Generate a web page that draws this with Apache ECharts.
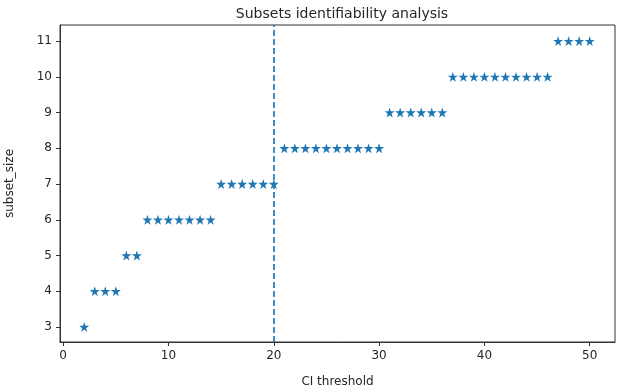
<!DOCTYPE html>
<html>
<head>
<meta charset="utf-8">
<script src="https://cdn.jsdelivr.net/npm/echarts@6/dist/echarts.min.js"></script>
<style>
html,body{margin:0;padding:0;background:#fff;}
#chart{width:617px;height:390px;}
</style>
</head>
<body>
<div id="chart"></div>
<script>
// CI threshold values and the subset size found at each
var thresholds = [2, 3, 4, 5, 6, 7, 8, 9, 10, 11, 12, 13, 14, 15, 16, 17, 18, 19, 20,
    21, 22, 23, 24, 25, 26, 27, 28, 29, 30, 31, 32, 33, 34, 35, 36,
    37, 38, 39, 40, 41, 42, 43, 44, 45, 46, 47, 48, 49, 50];
var subsetSize = [3, 4, 4, 4, 5, 5, 6, 6, 6, 6, 6, 6, 6, 7, 7, 7, 7, 7, 7,
    8, 8, 8, 8, 8, 8, 8, 8, 8, 8, 9, 9, 9, 9, 9, 9,
    10, 10, 10, 10, 10, 10, 10, 10, 10, 10, 11, 11, 11, 11];
var xTicks = [0, 10, 20, 30, 40, 50];
var yTicks = [3, 4, 5, 6, 7, 8, 9, 10, 11];
var chosenThreshold = 20;

var points = [];
for (var i = 0; i < thresholds.length; i++) {
    points.push([thresholds[i], subsetSize[i]]);
}

var star = 'path://M50,0 L61.8,36.2 L100,36.2 L69.1,58.8 L80.9,95.1 L50,72.4 L19.1,95.1 L30.9,58.8 L0,36.2 L38.2,36.2 Z';
var font = 'DejaVu Sans';
var txt = '#262626';

var option = {
    animation: false,
    backgroundColor: '#fff',
    title: {
        text: 'Subsets identifiability analysis',
        left: 337, top: 2,
        textAlign: 'center',
        textStyle: {fontFamily: font, fontSize: 14, fontWeight: 'normal', color: txt}
    },
    grid: {
        left: 60, right: 2, top: 25, bottom: 48,
        containLabel: false,
        outerBoundsMode: 'none',
        show: true, borderColor: '#333', borderWidth: 1
    },
    xAxis: {
        type: 'value',
        min: -0.3, max: 52.4,
        name: 'CI threshold',
        nameLocation: 'middle',
        nameGap: 34,
        nameTextStyle: {fontFamily: font, fontSize: 12, color: txt},
        axisLine: {show: true, onZero: false, lineStyle: {color: '#333'}},
        axisTick: {show: true, length: 4, lineStyle: {color: '#333'},
            customValues: xTicks},
        axisLabel: {fontFamily: font, fontSize: 12, color: txt, margin: 8,
            customValues: xTicks, showMinLabel: true, showMaxLabel: true},
        splitLine: {show: false}
    },
    yAxis: {
        type: 'value',
        min: 2.58, max: 11.45,
        name: 'subset_size',
        nameLocation: 'middle',
        nameGap: 44,
        nameTextStyle: {fontFamily: font, fontSize: 12, color: txt},
        axisLine: {show: true, onZero: false, lineStyle: {color: '#333'}},
        axisTick: {show: true, length: 4, lineStyle: {color: '#333'},
            customValues: yTicks},
        axisLabel: {fontFamily: font, fontSize: 12, color: txt, margin: 8,
            customValues: yTicks},
        splitLine: {show: false}
    },
    series: [{
        type: 'scatter',
        data: points,
        symbol: star,
        symbolSize: 10,
        itemStyle: {color: '#1f77b4', opacity: 1},
        markLine: {
            silent: true,
            symbol: 'none',
            label: {show: false},
            lineStyle: {color: '#1f77b4', type: [6, 3], width: 2, opacity: 0.85},
            data: [{xAxis: chosenThreshold}]
        }
    }]
};

var myChart = echarts.init(document.getElementById('chart'));
myChart.setOption(option);
</script>
</body>
</html>
